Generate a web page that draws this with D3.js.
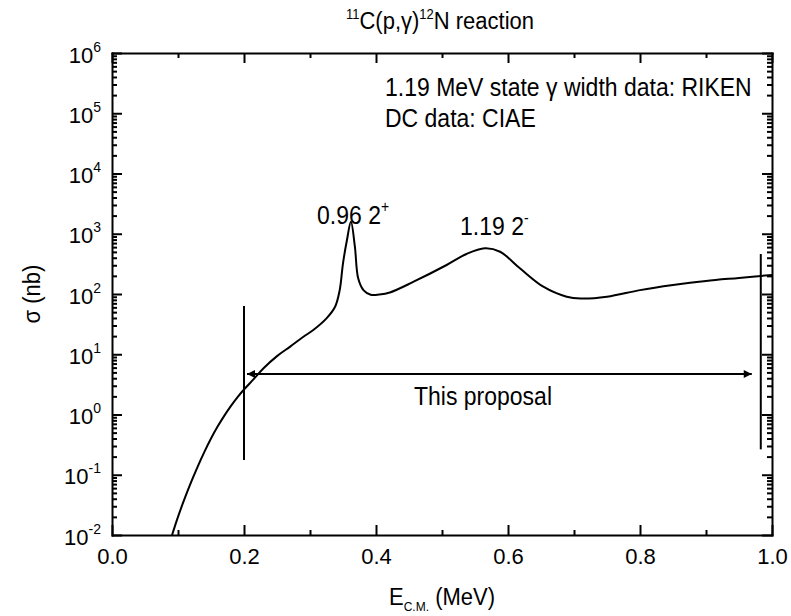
<!DOCTYPE html>
<html><head><meta charset="utf-8">
<script src="https://cdn.jsdelivr.net/npm/d3@7"></script>
<style>
body{margin:0;background:#fff;}
svg{display:block;font-family:"Liberation Sans",Arial,sans-serif;}
</style></head>
<body><svg id="c" width="791" height="616"></svg>
<script>
// ---- data ----
const energy = [0.091,0.10,0.11,0.12,0.13,0.14,0.15,0.16,0.17,0.18,0.19,0.20,0.215,0.23,0.25,0.27,0.29,0.305,0.325,0.338,0.345,0.350,0.356,0.362,0.368,0.373,0.381,0.392,0.405,0.421,0.457,0.507,0.537,0.565,0.588,0.618,0.6535,0.689,0.71,0.75,0.8,0.85,0.9,0.95,1.0];
const sigma  = [0.01,0.02,0.04,0.076,0.138,0.24,0.40,0.63,0.95,1.38,1.93,2.6,3.9,5.9,9.3,13.4,19.5,25.3,39.5,61.5,116,323,787,1585,610,182,116,97,98,106,160,303,461,573,503,267,132,90,84,90,116,141,165,185,207];
const xTicks = [0,0.2,0.4,0.6,0.8,1.0];
const xMinor = [0.1,0.3,0.5,0.7,0.9];
const yExponents = [-2,-1,0,1,2,3,4,5,6];
const proposalRange = [0.2,0.983];
const proposalLevel = 4.7;
const leftBar = [0.176,63];
const rightBar = [0.264,461];

// ---- layout ----
const svg = d3.select("#c");
const L=112,R=772,T=53,B=535;
const x = d3.scaleLinear().domain([0,1]).range([L,R]);
const y = d3.scaleLog().domain([1e-2,1e6]).range([B,T]);

const yMajor = yExponents.map(e=>Math.pow(10,e));
const yMinor = [];
yExponents.slice(0,-1).forEach(e=>{for(let k=2;k<=9;k++) yMinor.push(k*Math.pow(10,e));});

function style(g){g.selectAll("path,line").attr("stroke","#000").attr("stroke-width",2);g.select(".domain").attr("stroke-linecap","square");}

// bottom
svg.append("g").attr("transform",`translate(0,${B})`)
  .call(d3.axisBottom(x).tickValues(xTicks).tickSizeInner(-10).tickSizeOuter(0).tickPadding(13).tickFormat(d3.format(".1f")))
  .call(style).call(g=>g.selectAll("text").attr("font-size",22).attr("font-family","Liberation Sans, Arial"));
svg.append("g").attr("transform",`translate(0,${B})`)
  .call(d3.axisBottom(x).tickValues(xMinor).tickSizeInner(-5).tickSizeOuter(0).tickFormat(""))
  .call(style).call(g=>g.select(".domain").remove());
// top
svg.append("g").attr("transform",`translate(0,${T})`)
  .call(d3.axisTop(x).tickValues(xTicks).tickSizeInner(-10).tickSizeOuter(0).tickFormat(""))
  .call(style);
svg.append("g").attr("transform",`translate(0,${T})`)
  .call(d3.axisTop(x).tickValues(xMinor).tickSizeInner(-5).tickSizeOuter(0).tickFormat(""))
  .call(style).call(g=>g.select(".domain").remove());
// left
const leftAx = svg.append("g").attr("transform",`translate(${L},0)`)
  .call(d3.axisLeft(y).tickValues(yMajor).tickSizeInner(-10).tickSizeOuter(0).tickFormat(""))
  .call(style);
svg.append("g").attr("transform",`translate(${L},0)`)
  .call(d3.axisLeft(y).tickValues(yMinor).tickSizeInner(-5).tickSizeOuter(0).tickFormat(""))
  .call(style).call(g=>g.select(".domain").remove());
// right
svg.append("g").attr("transform",`translate(${R},0)`)
  .call(d3.axisRight(y).tickValues(yMajor).tickSizeInner(-10).tickSizeOuter(0).tickFormat(""))
  .call(style);
svg.append("g").attr("transform",`translate(${R},0)`)
  .call(d3.axisRight(y).tickValues(yMinor).tickSizeInner(-5).tickSizeOuter(0).tickFormat(""))
  .call(style).call(g=>g.select(".domain").remove());

// y tick labels 10^n
leftAx.selectAll(".tick").each(function(d){
  const t = d3.select(this).append("text").attr("x",-11).attr("y",9).attr("text-anchor","end")
    .attr("fill","#000").attr("font-size",22).attr("font-family","Liberation Sans, Arial");
  t.append("tspan").text("10");
  t.append("tspan").attr("font-size",14).attr("dy",-11).text(Math.round(Math.log10(d)));
});

// curve
const pts = energy.map((e,i)=>[e,sigma[i]]);
svg.append("path").datum(pts)
  .attr("fill","none").attr("stroke","#000").attr("stroke-width",2).attr("stroke-linejoin","round")
  .attr("d",d3.line().x(d=>x(d[0])).y(d=>y(d[1])).curve(d3.curveCatmullRom.alpha(0.5)));

// proposal bars
[[proposalRange[0],leftBar],[proposalRange[1],rightBar]].forEach(([e,b])=>{
  svg.append("line").attr("x1",x(e)).attr("x2",x(e)).attr("y1",y(b[0])).attr("y2",y(b[1]))
    .attr("stroke","#000").attr("stroke-width",2);
});
// arrow
const defs = svg.append("defs");
defs.append("marker").attr("id","ah").attr("viewBox","0 0 10 10").attr("refX",10).attr("refY",5)
  .attr("markerWidth",15).attr("markerHeight",8).attr("markerUnits","userSpaceOnUse").attr("orient","auto-start-reverse")
  .append("path").attr("d","M0,0L10,5L0,10Z").attr("fill","#000");
svg.append("line").attr("x1",x(proposalRange[0])+3).attr("x2",x(proposalRange[1])-9)
  .attr("y1",y(proposalLevel)).attr("y2",y(proposalLevel))
  .attr("stroke","#000").attr("stroke-width",2)
  .attr("marker-start","url(#ah)").attr("marker-end","url(#ah)");

// texts (slightly tall glyphs, as in the reference)
const SY = 1.12;
function stext(xx,yy,size,anchor){
  return svg.append("g").attr("transform",`translate(${xx},${yy}) scale(1,${SY})`)
    .append("text").attr("font-size",size).attr("text-anchor",anchor||"start").attr("fill","#000");
}
stext(483,405,23,"middle").text("This proposal");
stext(385,96,23).text("1.19 MeV state γ width data: RIKEN");
stext(385,127,23).text("DC data: CIAE");
const p1 = stext(317,224,23);
p1.append("tspan").text("0.96 2");
p1.append("tspan").attr("font-size",14).attr("dy",-11).text("+");
const p2 = stext(460,235,23);
p2.append("tspan").text("1.19 2");
p2.append("tspan").attr("font-size",14).attr("dy",-11).text("-");

// title
const ti = stext(440,29,22,"middle");
ti.append("tspan").attr("font-size",13).attr("dy",-9).text("11");
ti.append("tspan").attr("dy",9).text("C(p,γ)");
ti.append("tspan").attr("font-size",13).attr("dy",-9).text("12");
ti.append("tspan").attr("dy",9).text("N reaction");

// x label
const xl = stext(442,605,22,"middle");
xl.append("tspan").text("E");
xl.append("tspan").attr("font-size",12).attr("dy",5).text("C.M.");
xl.append("tspan").attr("dy",-5).text(" (MeV)");

// y label
svg.append("g").attr("transform",`translate(40,${(T+B)/2}) rotate(-90) scale(1,${SY})`)
  .append("text").attr("font-size",22).attr("text-anchor","middle").attr("fill","#000").text("σ (nb)");
</script></body></html>
